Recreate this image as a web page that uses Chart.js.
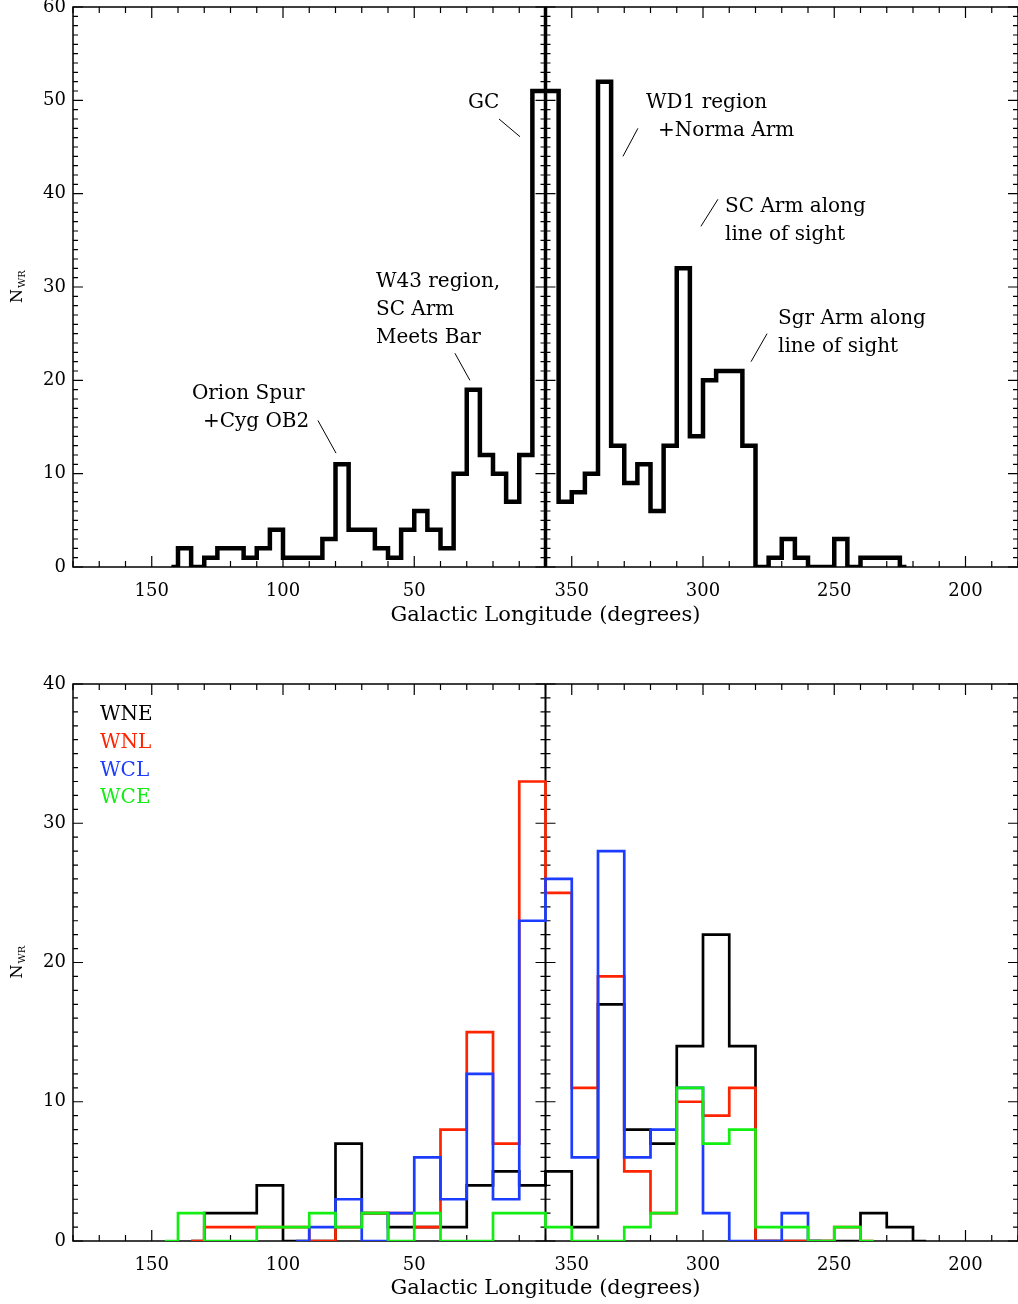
<!DOCTYPE html>
<html>
<head>
<meta charset="utf-8">
<script src="https://cdn.jsdelivr.net/npm/chart.js@4.4.1/dist/chart.umd.min.js"></script>
<style>
    body { margin: 0; background: #ffffff; }
    canvas { display: block; }
</style>
</head>
<body>
<canvas id="wr-all" width="1018" height="645"></canvas>
<canvas id="wr-types" width="1018" height="659"></canvas>
<script>
'use strict';

/* Section 1: Data */

// top panel: all WR stars, 5 degree bins (bin centres, galactic longitude)
const allLon = [142.5, 137.5, 132.5, 127.5, 122.5, 117.5, 112.5, 107.5, 102.5, 97.5,
    92.5, 87.5, 82.5, 77.5, 72.5, 67.5, 62.5, 57.5, 52.5, 47.5,
    42.5, 37.5, 32.5, 27.5, 22.5, 17.5, 12.5, 7.5, 2.5,
    357.5, 352.5, 347.5, 342.5, 337.5, 332.5, 327.5, 322.5, 317.5, 312.5,
    307.5, 302.5, 297.5, 292.5, 287.5, 282.5, 277.5, 272.5, 267.5, 262.5,
    257.5, 252.5, 247.5, 242.5, 237.5, 232.5, 227.5, 222.5];
const allCount = [0, 2, 0, 1, 2, 2, 1, 2, 4, 1,
    1, 1, 3, 11, 4, 4, 2, 1, 4, 6,
    4, 2, 10, 19, 12, 10, 7, 12, 51,
    51, 7, 8, 10, 52, 13, 9, 11, 6, 13,
    32, 14, 20, 21, 21, 13, 0, 1, 3, 1,
    0, 0, 3, 0, 1, 1, 1, 0];

// bottom panel: subtypes, 10 degree bins (null = bin not plotted)
const typeLon = [145, 135, 125, 115, 105, 95, 85, 75, 65, 55, 45, 35, 25, 15, 5,
    355, 345, 335, 325, 315, 305, 295, 285, 275, 265, 255, 245, 235, 225, 215];
const wneCount = [null, 0, 2, 2, 4, 0, 0, 7, 2, 1, 1, 1, 4, 5, 4,
    5, 1, 17, 8, 7, 14, 22, 14, 0, 0, 0, 0, 2, 1, 0];
const wnlCount = [null, 0, 1, 1, 1, 1, 0, 1, 2, 2, 1, 8, 15, 7, 33,
    25, 11, 19, 5, 2, 10, 9, 11, 0, 0, 0, 1, 0, null, null];
const wclCount = [null, null, null, null, null, 0, 1, 3, 0, 2, 6, 3, 12, 3, 23,
    26, 6, 28, 6, 8, 11, 2, 0, 0, 2, 0, null, null, null, null];
const wceCount = [0, 2, 0, 0, 1, 1, 2, 1, 2, 0, 2, 0, 0, 2, 2,
    1, 0, 0, 1, 2, 11, 7, 8, 1, 1, 0, 1, 0, null, null];

const typeNames = ['WNE', 'WNL', 'WCL', 'WCE'];
const typeColors = ['#000000', '#ff2400', '#1c3cff', '#12ee12'];

const lonTickLabels = [150, 100, 50, 350, 300, 250, 200];

// notes on the top panel, placed in axis units (longitude east of GC negative, N_WR)
const noteText = ['Orion Spur', '+Cyg OB2', 'W43 region,', 'SC Arm', 'Meets Bar', 'GC',
    'WD1 region', '+Norma Arm', 'SC Arm along', 'line of sight', 'Sgr Arm along', 'line of sight'];
const noteLon = [134.7, 130.5, 64.6, 64.6, 64.6, 29.5, -38.3, -42.9, -68.4, -68.4, -88.6, -88.6];
const noteN = [18.6, 15.6, 30.6, 27.6, 24.6, 49.7, 49.7, 46.7, 38.6, 35.6, 26.6, 23.6];
const pointerFrom = [[86.7, 15.7], [34.5, 22.9], [17.7, 48.0], [-35.2, 47.0], [-65.7, 39.4], [-84.4, 25.0]];
const pointerTo = [[79.8, 12.2], [28.8, 20.0], [9.7, 46.1], [-29.5, 44.0], [-59.2, 36.5], [-78.3, 22.0]];


/* Section 2: Helpers */

const toAxis = lon => lon > 180 ? lon - 360 : lon;
const wrapLon = v => v < 0 ? v + 360 : v;
const serif = '"DejaVu Serif", serif';

function histPoints(lons, counts) {
    return lons.map((lon, i) => ({x: toAxis(lon), y: counts[i]}));
}

// IDL style box: frame, inward ticks, axis through the GC, Y title
const idlFrame = {
    id: 'idlFrame',
    beforeDatasetsDraw(chart, args, opts) {
        const {ctx, chartArea: area, scales: {x, y}} = chart;
        ctx.save();
        ctx.strokeStyle = '#000';
        ctx.lineWidth = 1.5;
        ctx.strokeRect(area.left, area.top, area.right - area.left, area.bottom - area.top);

        ctx.lineWidth = 1.2;
        ctx.beginPath();
        for (let v = -180; v <= 180; v += 10) {
            const px = x.getPixelForValue(v);
            const len = lonTickLabels.includes(wrapLon(v)) ? 11 : 6;
            ctx.moveTo(px, area.bottom);
            ctx.lineTo(px, area.bottom - len);
            ctx.moveTo(px, area.top);
            ctx.lineTo(px, area.top + len);
        }
        const gc = x.getPixelForValue(0);
        for (let v = y.min; v <= y.max; v += 1) {
            const py = y.getPixelForValue(v);
            const major = v % 10 === 0;
            const len = major ? 10 : 5;
            ctx.moveTo(area.left, py);
            ctx.lineTo(area.left + len, py);
            ctx.moveTo(area.right, py);
            ctx.lineTo(area.right - len, py);
            ctx.moveTo(gc - len, py);
            ctx.lineTo(gc + len, py);
        }
        ctx.stroke();

        ctx.lineWidth = opts.centreWidth;
        ctx.beginPath();
        ctx.moveTo(gc, area.top);
        ctx.lineTo(gc, area.bottom);
        ctx.stroke();

        // N_WR
        ctx.fillStyle = '#000';
        ctx.translate(18, (area.top + area.bottom) / 2);
        ctx.rotate(-Math.PI / 2);
        ctx.textBaseline = 'middle';
        ctx.textAlign = 'left';
        ctx.font = '16px ' + serif;
        const wN = ctx.measureText('N').width;
        ctx.font = '10px ' + serif;
        const wSub = ctx.measureText('WR').width;
        const start = -(wN + wSub) / 2;
        ctx.font = '16px ' + serif;
        ctx.fillText('N', start, 0);
        ctx.font = '10px ' + serif;
        ctx.fillText('WR', start + wN + 1, 4);
        ctx.restore();
    },
    afterDatasetsDraw(chart, args, opts) {
        const {ctx, scales: {x, y}} = chart;
        ctx.save();
        ctx.font = '20px ' + serif;
        ctx.textBaseline = 'middle';
        ctx.textAlign = 'left';
        if (opts.notes) {
            ctx.fillStyle = '#000';
            noteText.forEach((txt, i) => {
                ctx.fillText(txt, x.getPixelForValue(noteLon[i]), y.getPixelForValue(noteN[i]));
            });
            ctx.strokeStyle = '#000';
            ctx.lineWidth = 1;
            ctx.beginPath();
            pointerFrom.forEach((p, i) => {
                ctx.moveTo(x.getPixelForValue(p[0]), y.getPixelForValue(p[1]));
                ctx.lineTo(x.getPixelForValue(pointerTo[i][0]), y.getPixelForValue(pointerTo[i][1]));
            });
            ctx.stroke();
        }
        if (opts.legend) {
            chart.data.datasets.forEach((ds, i) => {
                ctx.fillStyle = ds.borderColor;
                ctx.fillText(ds.label, x.getPixelForValue(169.7), y.getPixelForValue(37.8 - 2 * i));
            });
        }
        ctx.restore();
    }
};

function makeConfig(datasets, yMax, padTop, xHeight, titlePad, frameOpts) {
    return {
        type: 'line',
        data: {datasets: datasets},
        options: {
            responsive: false,
            animation: false,
            layout: {padding: {top: padTop, left: 0, right: 0, bottom: 0}},
            elements: {point: {radius: 0}},
            scales: {
                x: {
                    type: 'linear',
                    min: -180,
                    max: 180,
                    reverse: true,
                    grid: {display: false, drawTicks: false},
                    border: {display: false},
                    ticks: {
                        stepSize: 10,
                        autoSkip: false,
                        maxRotation: 0,
                        padding: 14,
                        color: '#000',
                        font: {family: serif, size: 18},
                        callback: value => {
                            const lon = wrapLon(value);
                            return lonTickLabels.includes(lon) ? String(lon) : '';
                        }
                    },
                    title: {
                        display: true,
                        text: 'Galactic Longitude (degrees)',
                        color: '#000',
                        font: {family: serif, size: 21},
                        padding: {top: 0, bottom: titlePad}
                    },
                    afterFit: scale => {
                        scale.height = xHeight;
                        scale.paddingLeft = 0;
                        scale.paddingRight = 0;
                    }
                },
                y: {
                    min: 0,
                    max: yMax,
                    grid: {display: false, drawTicks: false},
                    border: {display: false},
                    ticks: {
                        stepSize: 10,
                        padding: 7,
                        color: '#000',
                        font: {family: serif, size: 18}
                    },
                    afterFit: scale => {
                        scale.width = 73;
                        scale.paddingTop = 0;
                        scale.paddingBottom = 0;
                    }
                }
            },
            plugins: {
                legend: {display: false},
                tooltip: {enabled: false},
                idlFrame: frameOpts
            }
        },
        plugins: [idlFrame]
    };
}


/* Section 3: Charts */

const allChart = new Chart(document.querySelector('#wr-all'), makeConfig([
    {
        label: 'all',
        data: histPoints(allLon, allCount),
        stepped: 'middle',
        borderColor: '#000',
        borderWidth: 4.5,
        borderJoinStyle: 'miter',
        fill: false
    }
], 60, 7, 78, 17, {centreWidth: 3.5, notes: true}));

// later types are drawn on top (WCE uppermost)
const typeCounts = [wneCount, wnlCount, wclCount, wceCount];
const typeChart = new Chart(document.querySelector('#wr-types'), makeConfig(
    typeNames.map((name, i) => ({
        label: name,
        data: histPoints(typeLon, typeCounts[i]),
        stepped: 'middle',
        borderColor: typeColors[i],
        borderWidth: 2.7,
        borderJoinStyle: 'miter',
        spanGaps: false,
        fill: false,
        order: typeNames.length - i
    })),
    40, 39, 63, 3, {centreWidth: 2, legend: true}));
</script>
</body>
</html>
